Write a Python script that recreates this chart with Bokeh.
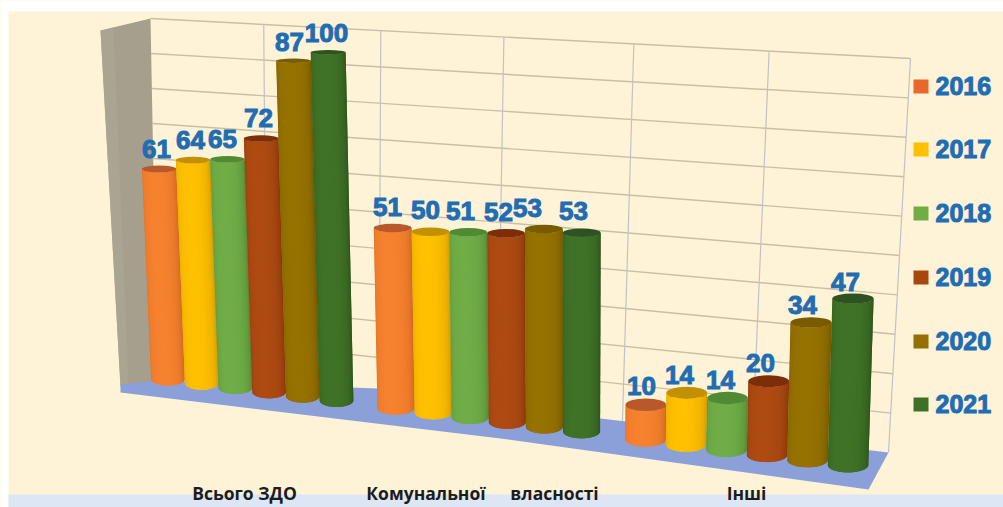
import math
from bokeh.plotting import figure
from bokeh.models import Range1d
from bokeh.core.properties import value
from bokeh.embed import file_html
from bokeh.resources import INLINE

categories = ["Всього ЗДО", "Комунальної власності", "Інші"]
years = ["2016", "2017", "2018", "2019", "2020", "2021"]

# printed data labels, one list per year, one value per category
labels_2016 = [61, 51, 10]
labels_2017 = [64, 50, 14]
labels_2018 = [65, 51, 14]
labels_2019 = [72, 52, 20]
labels_2020 = [87, 53, 34]
labels_2021 = [100, 53, 47]

# drawn cylinder heights (they differ from the printed labels)
heights_2016 = [61.6, 50.9, 12.2]
heights_2017 = [65.3, 51.2, 16.5]
heights_2018 = [66.7, 52.3, 16.5]
heights_2019 = [73.7, 53.3, 22.0]
heights_2020 = [96.4, 55.7, 38.0]
heights_2021 = [100.0, 56.0, 45.3]

wall_ticks = [0, 10, 20, 30, 40, 50, 60, 70, 80, 90, 100]
vertical_fracs = [0.149, 0.303, 0.465, 0.636, 0.814]

all_labels = [labels_2016, labels_2017, labels_2018, labels_2019, labels_2020, labels_2021]
all_heights = [heights_2016, heights_2017, heights_2018, heights_2019, heights_2020, heights_2021]

body_colors = ["#F6812F", "#FFC000", "#70AD47", "#AE4A12", "#967200", "#3F7226"]
edge_colors = ["#C4621E", "#C58F00", "#4B7F2E", "#7D3208", "#6C5200", "#294E16"]
top_colors = ["#B9582A", "#C29000", "#4F8B33", "#7B2E08", "#7A5C00", "#2F5320"]
legend_colors = ["#E8672B", "#FFC000", "#70AD47", "#A8460F", "#937000", "#3F7025"]

CREAM = "#FEF3D6"
BLUE_TEXT = "#1F6DB2"

# ---- scene projection (perspective of the 3-D picture) ----
GROUP_X0 = [167.5, 395.5, 645.0]
GROUP_STEP = [33.7, 37.1, 40.5]
GROUP_SCALE = [3.57, 3.75, 3.95]
LABEL_DX = [[-2.6, -2.6, -4.9, -2.7, -4.1, -1.6],
            [-5.2, -5.0, -7.7, -7.5, -16.4, -8.2],
            [-4.4, -7.3, -7.0, -8.2, -8.6, -7.5]]
LABEL_DY = [-17, -17, -12]
VANISH_X = 570.0
LEAN = 1e-4


def floor_y(x):
    return 385 + 0.128 * (x - 167.5)


def ry(y):
    return 1.5 + 0.012 * y


def lean_x(x, h):
    return x + (x - VANISH_X) * LEAN * h


def shade(c1, c2, t):
    a = [int(c1[i:i + 2], 16) for i in (1, 3, 5)]
    b = [int(c2[i:i + 2], 16) for i in (1, 3, 5)]
    return "#%02X%02X%02X" % tuple(round(a[i] + (b[i] - a[i]) * t) for i in range(3))


p = figure(width=1003, height=507, x_range=Range1d(0, 1003), y_range=Range1d(507, 0),
           output_backend="svg", toolbar_location=None, min_border=0,
           background_fill_color=CREAM, border_fill_color="#FFFFFF", outline_line_color=None)
p.axis.visible = False
p.grid.visible = False

# white margin and the pale band at the foot
p.quad(left=[0], right=[1003], top=[0], bottom=[11], fill_color="#FFFFFF", line_color=None)
p.quad(left=[0], right=[8], top=[0], bottom=[507], fill_color="#FFFFFF", line_color=None)
p.quad(left=[8], right=[1003], top=[494], bottom=[507], fill_color="#DCE6F5", line_color=None)


# ---- back wall ----
def wall_left(v):
    return 157 - 0.07 * v, 368 - 3.5 * v


def wall_right(v):
    return 888 + 0.22 * v, 452 - 3.94 * v


p.multi_line(xs=[[wall_left(v)[0], wall_right(v)[0]] for v in wall_ticks[1:]],
             ys=[[wall_left(v)[1], wall_right(v)[1]] for v in wall_ticks[1:]],
             line_color="#C9BFA6", line_width=1.4)
vx, vy = [], []
for f in vertical_fracs + [1.0]:
    x_t = wall_left(100)[0] + (wall_right(100)[0] - wall_left(100)[0]) * f
    y_t = wall_left(100)[1] + (wall_right(100)[1] - wall_left(100)[1]) * f
    x_b = wall_left(0)[0] + (wall_right(0)[0] - wall_left(0)[0]) * f
    y_b = wall_left(0)[1] + (wall_right(0)[1] - wall_left(0)[1]) * f
    vx.append([x_t, x_b])
    vy.append([y_t, y_b])
p.multi_line(xs=vx, ys=vy, line_color="#BFC3C6", line_width=1.2)

# side wall
p.patch(x=[100, 150, 157, 120], y=[30, 18, 382, 386], fill_color="#A69F8E", line_color=None)
p.patch(x=[100, 113, 128, 120], y=[30, 27, 385, 386], fill_color="#ABA594", line_color=None, fill_alpha=0.8)

# floor
p.patch(x=[120, 157, 377, 600, 888, 868, 500, 120],
        y=[384, 380, 388, 418, 452, 489, 438, 392],
        fill_color="#8B9FD8", line_color=None)

# ---- cylinders ----
N = 18
strip_x, strip_y, strip_c = [], [], []
top_x, top_y, top_w, top_h, top_c = [], [], [], [], []
lab_x, lab_y, lab_t = [], [], []
for g in range(len(categories)):
    for s in range(len(years)):
        xb = GROUP_X0[g] + GROUP_STEP[g] * s
        hw = GROUP_STEP[g] * 0.5
        bottom_edge = floor_y(xb)
        h = all_heights[s][g] * GROUP_SCALE[g]
        top_edge = bottom_edge - h
        r_b = ry(bottom_edge)
        r_t = ry(top_edge)
        cy_b = bottom_edge - r_b
        cy_t = top_edge + r_t
        xt = lean_x(xb, h)
        hwt = hw * (1 + LEAN * h)
        for i in range(N):
            a0 = math.pi * (1 - i / N)
            # each strip reaches two steps on: the next strip paints over the overlap, so no seams
            a1 = math.pi * max(0.0, 1 - (i + 2) / N)
            t = (i + 0.5) / N
            darkness = min(1.0, abs((t - 0.42) / 0.58) ** 2.4)
            strip_x.append([xb + hw * math.cos(a0), xb + hw * math.cos(a1),
                            xt + hwt * math.cos(a1), xt + hwt * math.cos(a0)])
            strip_y.append([cy_b + r_b * math.sin(a0), cy_b + r_b * math.sin(a1),
                            cy_t + r_t * math.sin(a1), cy_t + r_t * math.sin(a0)])
            strip_c.append(shade(body_colors[s], edge_colors[s], darkness))
        top_x.append(xt); top_y.append(cy_t)
        top_w.append(2 * hwt); top_h.append(2 * r_t); top_c.append(top_colors[s])
        lab_x.append(xt + LABEL_DX[g][s]); lab_y.append(top_edge + LABEL_DY[g])
        lab_t.append(str(all_labels[s][g]))

# draw bar by bar so that each later cylinder overlaps the one before it
idx = 0
for b in range(len(top_x)):
    p.patches(xs=strip_x[idx:idx + N], ys=strip_y[idx:idx + N], fill_color=strip_c[idx:idx + N],
              line_color=None)
    p.ellipse(x=[top_x[b]], y=[top_y[b]], width=[top_w[b]], height=[top_h[b]],
              fill_color=top_c[b], line_color=None)
    idx += N

# data labels
p.text(x=lab_x, y=lab_y, text=lab_t, text_align="center", text_baseline="middle",
       text_font=value("Liberation Sans"), text_font_style="bold", text_font_size="26px",
       text_color=BLUE_TEXT, text_outline_color=BLUE_TEXT)

# legend
legend_y = [86, 149, 213, 277, 341, 404]
p.rect(x=[920.5] * 6, y=legend_y, width=15, height=14, fill_color=legend_colors, line_color=None)
p.text(x=[935] * 6, y=[v - 1 for v in legend_y], text=years, text_align="left", text_baseline="middle",
       text_font=value("Liberation Sans"), text_font_style="bold", text_font_size="25px",
       text_color=BLUE_TEXT, text_outline_color=BLUE_TEXT)

# category labels
first, second = categories[1].split(" ")
p.text(x=[244, 425.5, 554, 746], y=[492.5, 492.5, 492.5, 492],
       text=[categories[0], first, second, categories[2]],
       text_align="center", text_baseline="middle",
       text_font=value("Open Sans"), text_font_style="bold", text_font_size="17.5px",
       text_color="#1C1C1C")

open("out.html", "w").write(file_html(p, INLINE))
